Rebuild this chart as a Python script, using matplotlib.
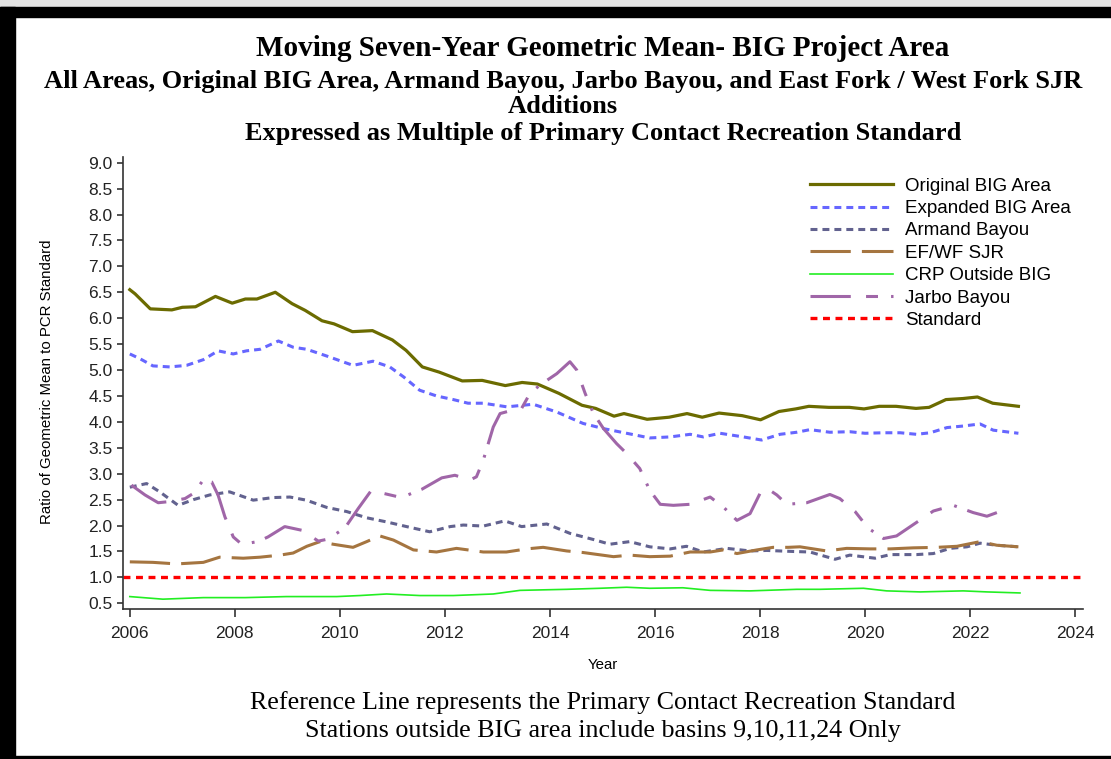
import matplotlib
matplotlib.use("Agg")
import matplotlib.pyplot as plt
from matplotlib.patches import Rectangle

# =====================================================================================================================

plt.rcParams['font.family'] = ['Liberation Sans', 'DejaVu Sans']
plt.rcParams['lines.scale_dashes'] = False

TITLE_LINES = [
    "Moving Seven-Year Geometric Mean- BIG Project Area",
    "All Areas, Original BIG Area, Armand Bayou, Jarbo Bayou, and East Fork / West Fork SJR",
    "Additions",
    "Expressed as Multiple of Primary Contact Recreation Standard",
]
FOOTNOTES = [
    "Reference Line represents the Primary Contact Recreation Standard",
    "Stations outside BIG area include basins 9,10,11,24 Only",
]

# ===============================================< DATA >===============================================================

orig_years = [2006.0, 2006.1, 2006.39, 2006.8, 2007.0, 2007.25, 2007.63, 2007.95, 2008.2, 2008.42, 2008.77, 2009.09,
              2009.34, 2009.66, 2009.89, 2010.24, 2010.62, 2011.0, 2011.26, 2011.57, 2011.89, 2012.33, 2012.71,
              2013.15, 2013.47, 2013.76, 2014.17, 2014.61, 2014.87, 2015.22, 2015.41, 2015.85, 2016.27, 2016.61,
              2016.9, 2017.22, 2017.66, 2018.01, 2018.36, 2018.68, 2018.93, 2019.31, 2019.7, 2019.98, 2020.27,
              2020.59, 2020.97, 2021.22, 2021.54, 2021.86, 2022.14, 2022.43, 2022.92]
orig_vals = [6.55, 6.47, 6.18, 6.16, 6.21, 6.22, 6.42, 6.29, 6.37, 6.37, 6.50, 6.28, 6.15, 5.95, 5.89, 5.74, 5.76,
             5.58, 5.38, 5.06, 4.96, 4.79, 4.80, 4.70, 4.76, 4.73, 4.55, 4.32, 4.26, 4.11, 4.16, 4.05, 4.09, 4.16,
             4.09, 4.17, 4.12, 4.04, 4.20, 4.25, 4.30, 4.28, 4.28, 4.25, 4.30, 4.30, 4.26, 4.28, 4.43, 4.45, 4.48,
             4.36, 4.30]

exp_years = [2006.0, 2006.19, 2006.44, 2006.76, 2007.08, 2007.4, 2007.68, 2007.97, 2008.22, 2008.48, 2008.83,
             2009.11, 2009.37, 2009.75, 2010.0, 2010.25, 2010.63, 2010.95, 2011.21, 2011.52, 2011.84, 2012.16,
             2012.44, 2012.73, 2013.18, 2013.68, 2014.13, 2014.63, 2015.02, 2015.46, 2015.9, 2016.29, 2016.67,
             2016.92, 2017.24, 2017.68, 2018.03, 2018.38, 2018.7, 2018.95, 2019.33, 2019.71, 2020.0, 2020.35,
             2020.67, 2020.98, 2021.24, 2021.56, 2021.87, 2022.19, 2022.44, 2022.92]
exp_vals = [5.31, 5.22, 5.08, 5.06, 5.09, 5.20, 5.37, 5.31, 5.37, 5.40, 5.56, 5.44, 5.40, 5.27, 5.18, 5.09, 5.17,
            5.06, 4.87, 4.61, 4.50, 4.43, 4.36, 4.36, 4.29, 4.34, 4.19, 3.97, 3.87, 3.78, 3.69, 3.71, 3.76, 3.71,
            3.78, 3.71, 3.65, 3.76, 3.80, 3.85, 3.80, 3.81, 3.78, 3.79, 3.79, 3.76, 3.79, 3.89, 3.92, 3.96, 3.84, 3.78]

arm_years = [2006.0, 2006.32, 2006.57, 2006.92, 2007.21, 2007.52, 2007.9, 2008.35, 2008.73, 2009.05, 2009.36,
             2009.75, 2010.13, 2010.51, 2010.89, 2011.27, 2011.71, 2012.1, 2012.35, 2012.73, 2013.14, 2013.46,
             2013.94, 2014.38, 2014.83, 2015.14, 2015.52, 2015.9, 2016.29, 2016.6, 2016.92, 2017.37, 2017.81,
             2018.13, 2018.63, 2018.95, 2019.43, 2019.71, 2020.19, 2020.48, 2020.98, 2021.3, 2021.62, 2021.94,
             2022.19, 2022.51, 2022.92]
arm_vals = [2.74, 2.81, 2.65, 2.39, 2.50, 2.59, 2.65, 2.49, 2.54, 2.55, 2.49, 2.35, 2.27, 2.15, 2.07, 1.98, 1.88,
            1.98, 2.01, 1.99, 2.09, 1.98, 2.03, 1.85, 1.73, 1.64, 1.69, 1.59, 1.55, 1.60, 1.49, 1.56, 1.51, 1.52,
            1.50, 1.49, 1.35, 1.43, 1.37, 1.44, 1.44, 1.46, 1.56, 1.59, 1.66, 1.62, 1.59]

ef_years = [2006.0, 2006.44, 2006.89, 2007.4, 2007.71, 2008.16, 2008.48, 2008.86, 2009.11, 2009.37, 2009.62,
            2009.87, 2010.25, 2010.51, 2010.76, 2011.02, 2011.4, 2011.84, 2012.22, 2012.44, 2012.73, 2013.17,
            2013.56, 2013.87, 2014.32, 2014.63, 2015.21, 2015.52, 2015.9, 2016.29, 2016.67, 2017.05, 2017.3,
            2017.56, 2017.94, 2018.25, 2018.54, 2018.76, 2018.95, 2019.27, 2019.65, 2020.1, 2020.48, 2020.92,
            2021.37, 2021.75, 2022.19, 2022.51, 2022.92]
ef_vals = [1.30, 1.29, 1.26, 1.29, 1.39, 1.37, 1.39, 1.43, 1.47, 1.60, 1.69, 1.64, 1.58, 1.69, 1.80, 1.72, 1.53,
           1.49, 1.56, 1.53, 1.49, 1.49, 1.55, 1.58, 1.51, 1.48, 1.40, 1.43, 1.40, 1.41, 1.49, 1.49, 1.53, 1.46,
           1.53, 1.58, 1.58, 1.59, 1.56, 1.51, 1.56, 1.55, 1.55, 1.57, 1.58, 1.60, 1.69, 1.62, 1.59]

crp_years = [2006.0, 2006.63, 2007.4, 2008.2, 2008.98, 2009.94, 2010.38, 2010.89, 2011.52, 2012.16, 2012.92,
             2013.43, 2014.32, 2014.95, 2015.46, 2015.9, 2016.53, 2017.05, 2017.81, 2018.7, 2019.14, 2019.97,
             2020.41, 2021.05, 2021.87, 2022.32, 2022.95]
crp_vals = [0.63, 0.58, 0.61, 0.61, 0.63, 0.63, 0.65, 0.68, 0.65, 0.65, 0.68, 0.75, 0.77, 0.79, 0.81, 0.79, 0.80,
            0.75, 0.74, 0.77, 0.77, 0.79, 0.74, 0.72, 0.74, 0.72, 0.70]

jar_years = [2006.03, 2006.29, 2006.54, 2006.73, 2007.05, 2007.21, 2007.4, 2007.56, 2007.68, 2007.81, 2007.97,
             2008.13, 2008.44, 2008.63, 2008.95, 2009.27, 2009.59, 2009.78, 2010.1, 2010.35, 2010.6, 2010.79,
             2011.17, 2011.56, 2011.94, 2012.19, 2012.48, 2012.6, 2012.73, 2012.92, 2013.05, 2013.3, 2013.46,
             2013.62, 2013.81, 2014.13, 2014.38, 2014.51, 2014.67, 2014.83, 2015.02, 2015.27, 2015.46, 2015.71,
             2015.9, 2016.1, 2016.35, 2016.67, 2017.05, 2017.3, 2017.56, 2017.81, 2018.0, 2018.13, 2018.32,
             2018.51, 2018.89, 2019.33, 2019.52, 2019.81, 2020.06, 2020.35, 2020.6, 2020.95, 2021.3, 2021.68,
             2022.06, 2022.32, 2022.51]
jar_vals = [2.78, 2.59, 2.44, 2.46, 2.52, 2.62, 2.88, 2.84, 2.59, 2.17, 1.78, 1.64, 1.69, 1.78, 1.98, 1.91, 1.70,
            1.74, 1.96, 2.33, 2.68, 2.63, 2.54, 2.70, 2.92, 2.97, 2.88, 2.94, 3.26, 3.90, 4.16, 4.23, 4.26, 4.55,
            4.71, 4.93, 5.16, 5.00, 4.55, 4.16, 3.87, 3.58, 3.39, 3.10, 2.68, 2.41, 2.39, 2.41, 2.55, 2.36, 2.10,
            2.23, 2.62, 2.72, 2.59, 2.41, 2.44, 2.60, 2.52, 2.27, 1.95, 1.75, 1.80, 2.04, 2.28, 2.39, 2.25, 2.18, 2.25]

standard_value = 1.0
y_ticks = [0.5, 1.0, 1.5, 2.0, 2.5, 3.0, 3.5, 4.0, 4.5, 5.0, 5.5, 6.0, 6.5, 7.0, 7.5, 8.0, 8.5, 9.0]
x_ticks = [2006, 2008, 2010, 2012, 2014, 2016, 2018, 2020, 2022, 2024]

# ===============================================< PLOT >===============================================================

fig = plt.figure(figsize=(11.11, 7.59), dpi=100)
ax = fig.add_axes([0.1107, 0.1976, 0.8641, 0.5956])

ax.plot(orig_years, orig_vals, color='#6B6B00', lw=2.3, label="Original BIG Area")
ax.plot(exp_years, exp_vals, color='#6666FF', lw=2.2, ls=(0, (5, 3.6)), label="Expanded BIG Area")
ax.plot(arm_years, arm_vals, color='#62628F', lw=2.2, ls=(0, (5, 3.6)), label="Armand Bayou")
ax.plot(ef_years, ef_vals, color='#A57540', lw=2.2, ls=(0, (29, 8)), label="EF/WF SJR")
ax.plot(crp_years, crp_vals, color='#22EE22', lw=1.2, label="CRP Outside BIG")
ax.plot(jar_years, jar_vals, color='#A066A8', lw=2.2, ls=(0, (29, 11, 8.6, 9.4, 2, 8)), label="Jarbo Bayou")
ax.axhline(standard_value, color='#FF0000', lw=2.4, ls=(0, (5, 4)), label="Standard")

ax.set_xlim(2005.87, 2024.15)
ax.set_ylim(0.39, 9.11)
ax.set_xticks(x_ticks)
ax.set_yticks(y_ticks)
ax.set_yticklabels(["%.1f" % v for v in y_ticks])
for side in ['top', 'right']:
    ax.spines[side].set_visible(False)
for side in ['left', 'bottom']:
    ax.spines[side].set_linewidth(1.2)
    ax.spines[side].set_color('#333333')
ax.tick_params(axis='y', direction='out', length=4.5, width=1.1, pad=3, labelsize=12.5, colors='#222222')
ax.tick_params(axis='x', direction='out', length=6, width=1.1, pad=6, labelsize=12.5, colors='#222222')

ax.legend(loc='upper left', bbox_to_anchor=(0.729, 0.766), bbox_transform=fig.transFigure, frameon=False,
          fontsize=13.5, handlelength=4.45, handletextpad=0.62, labelspacing=0.28, borderpad=0, borderaxespad=0)

fig.text(0.0423, 0.4967, "Ratio of Geometric Mean to PCR Standard", rotation=90, ha='center', va='center',
         fontsize=10.8)
fig.text(0.5427, 0.1238, "Year", ha='center', va='center', fontsize=10.8)

# titles and footnotes
serif = ['Liberation Serif', 'DejaVu Serif']
fig.text(0.5427, 0.9356, TITLE_LINES[0], ha='center', va='center', fontsize=21, fontweight='bold', family=serif)
fig.text(0.5068, 0.8925, TITLE_LINES[1], ha='center', va='center', fontsize=19, fontweight='bold', family=serif)
fig.text(0.5068, 0.8600, TITLE_LINES[2], ha='center', va='center', fontsize=19, fontweight='bold', family=serif)
fig.text(0.5427, 0.8240, TITLE_LINES[3], ha='center', va='center', fontsize=19, fontweight='bold', family=serif)
fig.text(0.5427, 0.0750, FOOTNOTES[0], ha='center', va='center', fontsize=18.7, family=serif)
fig.text(0.5427, 0.0375, FOOTNOTES[1], ha='center', va='center', fontsize=18.7, family=serif)

# black frame pieces
fig.patches.append(Rectangle((0, 1 - 7 / 759), 1, 7 / 759, transform=fig.transFigure, color='#e4e4e4', zorder=0))
fig.patches.append(Rectangle((0, 1 - 17 / 759), 1, 10 / 759, transform=fig.transFigure, color='black', zorder=5))
fig.patches.append(Rectangle((0, 0), 15 / 1111, 1 - 7 / 759, transform=fig.transFigure, color='black', zorder=5))
fig.patches.append(Rectangle((0, 0), 1, 3.5 / 759, transform=fig.transFigure, color='black', zorder=5))

fig.savefig("out.png", dpi=100)
